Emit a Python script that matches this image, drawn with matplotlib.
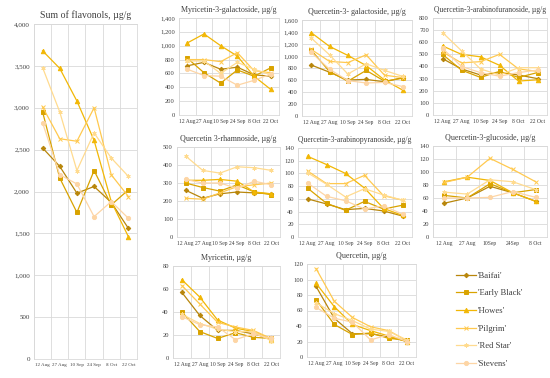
import numpy as np
import matplotlib.pyplot as plt
from matplotlib.lines import Line2D

plt.rcParams['font.family'] = ['Liberation Serif', 'DejaVu Serif']

dates6 = ['12 Aug', '27 Aug', '10 Sep', '24 Sep', '8 Oct', '22 Oct']
dates5 = ['12 Aug', '27 Aug', '10Sep', '24Sep', '8 Oct']
cultivars = ["'Baifai'", "'Early Black'", "'Howes'", "'Pilgrim'", "'Red Star'", "'Stevens'"]

# values per cultivar: Baifai, Early Black, Howes, Pilgrim, Red Star, Stevens
sum_flav = [
    [2520, 2300, 1980, 2060, 1870, 1560],
    [2950, 2160, 1750, 2250, 1840, 2020],
    [3680, 3470, 3080, 2610, 1880, 1460],
    [3010, 2630, 2600, 3000, 2200, 1940],
    [3480, 2950, 2250, 2700, 2400, 2180],
    [2820, 2200, 2090, 1700, 1880, 1680],
]
myr_gal = [
    [710, 760, 660, 690, 580, 560],
    [820, 610, 460, 650, 560, 680],
    [1040, 1170, 1000, 850, 560, 370],
    [800, 800, 770, 900, 640, 610],
    [780, 780, 600, 760, 660, 580],
    [660, 570, 560, 430, 500, 590],
]
que_gal = [
    [850, 730, 600, 610, 570, 640],
    [1100, 740, 580, 760, 580, 630],
    [1390, 1160, 1010, 840, 600, 430],
    [1110, 910, 890, 1020, 680, 640],
    [1300, 1020, 700, 870, 760, 660],
    [1060, 780, 590, 550, 560, 490],
]
que_araf = [
    [465, 380, 330, 350, 330, 300],
    [500, 370, 310, 360, 310, 350],
    [570, 500, 480, 410, 280, 290],
    [520, 430, 440, 500, 380, 360],
    [680, 530, 380, 330, 390, 390],
    [550, 400, 350, 320, 350, 370],
]
que_rham = [
    [260, 215, 240, 250, 245, 240],
    [300, 275, 255, 290, 250, 235],
    [315, 315, 320, 310, 250, 240],
    [215, 210, 245, 280, 290, 300],
    [450, 370, 355, 390, 385, 370],
    [320, 300, 300, 270, 310, 290],
]
que_arap = [
    [60, 52, 43, 45, 41, 33],
    [77, 53, 42, 56, 44, 50],
    [127, 114, 100, 77, 45, 34],
    [104, 84, 84, 97, 65, 58],
    [101, 83, 63, 76, 66, 58],
    [85, 64, 57, 44, 49, 36],
]
que_glu = [
    [52, 60, 78, 68, 55],
    [64, 60, 82, 68, 73],
    [85, 92, 87, 68, 55],
    [84, 92, 121, 104, 85],
    [69, 66, 88, 85, 73],
    [60, 60, 61, 70, 61],
]
myr = [
    [57, 37, 24, 24, 21, 17],
    [40, 23, 17, 22, 18, 17],
    [68, 53, 33, 26, 23, 16],
    [63, 47, 31, 27, 24, 17],
    [38, 30, 25, 23, 23, 15],
    [36, 29, 27, 16, 21, 17],
]
que = [
    [91, 50, 30, 30, 26, 20],
    [74, 42, 29, 31, 24, 22],
    [95, 65, 42, 34, 27, 20],
    [114, 72, 51, 39, 34, 21],
    [70, 56, 47, 36, 33, 22],
    [64, 50, 45, 22, 29, 20],
]

colors = ['#B8860B', '#D9A300', '#F2B705', '#FFC94F', '#FFDB8F', '#FDD5A5']
markers = ['D', 's', '^', 'x', (6, 2, 0), 'o']
msizes = [2.3, 3, 3.2, 3, 3, 3]

W, H = 550, 378
fig = plt.figure(figsize=(5.5, 3.78), dpi=100)


def box(l, t, r, b):
    return [l / W, 1 - b / H, (r - l) / W, (b - t) / H]


def panel(rect, data, dates, ymax, step, title, tsize=5.8, ysize=4.7, xsize=4.1):
    ax = fig.add_axes(box(*rect))
    x = np.arange(len(dates))
    for i in range(len(data)):
        ax.plot(x, data[i], color=colors[i], marker=markers[i], ms=msizes[i],
                lw=0.9, mew=0.7, zorder=3)
    ax.set_xlim(-0.5, len(dates) - 0.5)
    ax.set_ylim(0, ymax)
    ax.set_xticks(x)
    ax.set_xticklabels(dates)
    ax.set_xticks(np.arange(-0.5, len(dates)), minor=True)
    ticks = np.arange(0, ymax + 1, step)
    ax.set_yticks(ticks)
    ax.set_yticklabels([f'{t:,}' for t in ticks])
    ax.tick_params(which='both', length=0, pad=2, colors='#404040')
    ax.tick_params(axis='y', labelsize=ysize, pad=3)
    ax.tick_params(axis='x', labelsize=xsize, pad=3)
    ax.grid(True, axis='y', color='#D9D9D9', lw=0.6)
    ax.grid(True, axis='x', which='minor', color='#D9D9D9', lw=0.6)
    for s in ax.spines.values():
        s.set_color('#D9D9D9')
        s.set_linewidth(0.6)
    ax.set_title(title, fontsize=tsize, color='#404040', pad=4)
    return ax


panel((34, 24, 137, 359), sum_flav, dates6, 4000, 500, 'Sum of flavonols, µg/g',
      tsize=7, ysize=5, xsize=3.6)
panel((179, 18, 279, 115), myr_gal, dates6, 1400, 200, 'Myricetin-3-galactoside, µg/g')
panel((302, 20, 412, 116), que_gal, dates6, 1600, 200, 'Quercetin-3- galactoside, µg/g')
panel((433, 18, 547, 115), que_araf, dates6, 800, 100, 'Quercetin-3-arabinofuranoside, µg/g',
      tsize=5.5)
panel((177, 147, 280, 237), que_rham, dates6, 500, 100, 'Quercetin 3-rhamnoside, µg/g')
panel((298, 148, 412, 237), que_arap, dates6, 140, 20, 'Quercetin-3-arabinopyranoside, µg/g',
      tsize=5.5)
panel((433, 146, 547, 237), que_glu, dates5, 140, 20, 'Quercetin-3-glucoside, µg/g')
panel((173, 266, 280, 358), myr, dates6, 80, 20, 'Myricetin, µg/g')
panel((307, 264, 416, 357), que, dates6, 120, 20, 'Quercetin, µg/g')

handles = [Line2D([], [], color=colors[i], marker=markers[i], ms=msizes[i], lw=0.9, mew=0.7)
           for i in range(len(cultivars))]
fig.legend(handles, cultivars, loc='upper left', bbox_to_anchor=(448 / W, 1 - 264 / H),
           frameon=False, fontsize=6.2, handlelength=2.3, labelspacing=1.12,
           handletextpad=0.3, labelcolor='#404040')

fig.savefig('out.png', dpi=100)
